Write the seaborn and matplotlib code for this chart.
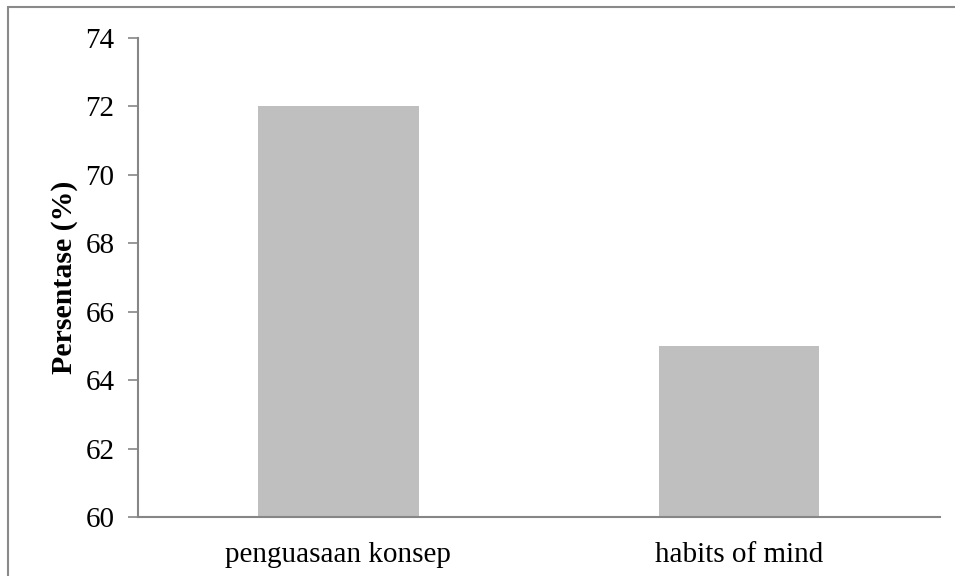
import matplotlib
matplotlib.use("Agg")
import matplotlib.pyplot as plt
import matplotlib.patches as mpatches
import pandas as pd
import seaborn as sns

categories = ["penguasaan konsep", "habits of mind"]
values = [72, 65]
y_ticks = [60, 62, 64, 66, 68, 70, 72, 74]

sns.set_style("white")
plt.rcParams["font.family"] = ["Liberation Serif", "DejaVu Serif"]
plt.rcParams["text.color"] = "black"
plt.rcParams["axes.labelcolor"] = "black"
plt.rcParams["xtick.labelcolor"] = "black"
plt.rcParams["ytick.labelcolor"] = "black"

df = pd.DataFrame({"kategori": categories, "persentase": values})

fig = plt.figure(figsize=(9.55, 5.76), dpi=100)
ax = fig.add_axes([0.1445, 0.1024, 0.8395, 0.8316])
sns.barplot(data=df, x="kategori", y="persentase", color="#bfbfbf",
            saturation=1, width=0.4, linewidth=0, ax=ax)

ax.set_ylim(60, 74)
ax.set_yticks(y_ticks)
ax.set_xlim(-0.5, 1.5)
ax.set_xlabel("")
ax.set_ylabel("Persentase (%)", fontsize=21.5, fontweight="bold", labelpad=5)
ax.tick_params(axis="y", labelsize=21, length=7, width=1.2, color="#868686",
               labelcolor="black", direction="out", left=True, pad=10)
ax.tick_params(axis="x", labelsize=21, length=0, pad=18, labelcolor="black")

for side in ["top", "right"]:
    ax.spines[side].set_visible(False)
for side in ["left", "bottom"]:
    ax.spines[side].set_color("#868686")
    ax.spines[side].set_linewidth(1.5)

# outer frame
fig.patches.append(mpatches.Rectangle((8 / 955, -0.05), 1.1, 1 - 7 / 576 + 0.05,
                                      transform=fig.transFigure, fill=False,
                                      edgecolor="#8a8a8a", linewidth=1.5))

fig.savefig("out.png", dpi=100)
